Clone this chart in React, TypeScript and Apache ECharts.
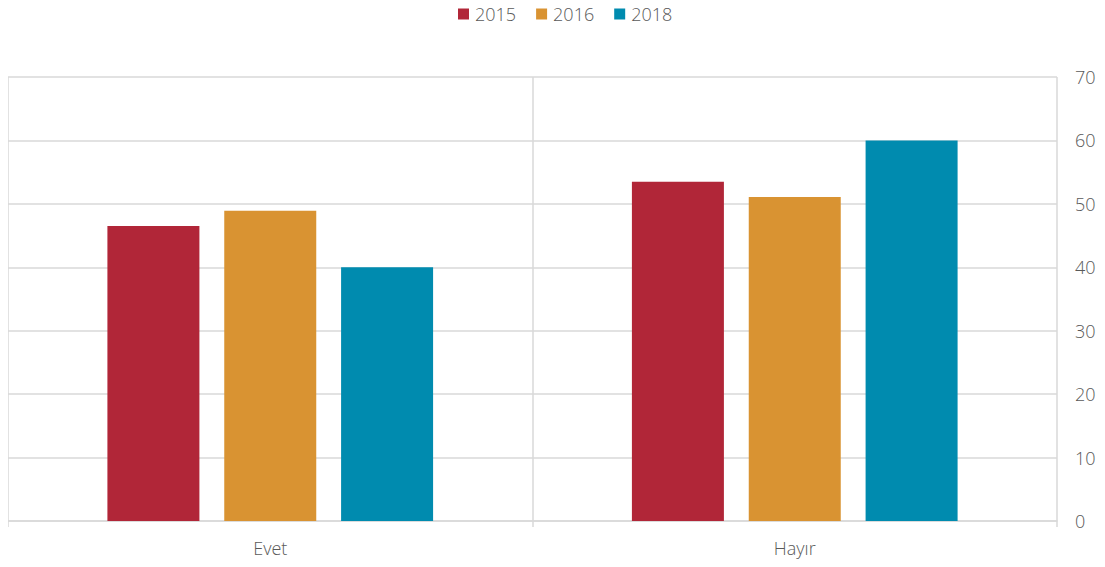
import React, { useEffect, useRef } from "react";
import * as echarts from "echarts";

const categories = ["Evet", "Hayır"];
const seriesNames = ["2015", "2016", "2018"];
const values2015 = [46.5, 53.5];
const values2016 = [48.9, 51.1];
const values2018 = [40, 60];
const colors = ["#B12638", "#D99332", "#008BAF"];

export default function App() {
  const ref = useRef<HTMLDivElement>(null);
  useEffect(() => {
    if (!ref.current) return;
    const chart = echarts.init(ref.current, null, { renderer: "svg" });
    const font = "'Open Sans', 'Noto Sans', sans-serif";
    const data = [values2015, values2016, values2018];
    chart.setOption({
      animation: false,
      textStyle: { fontFamily: font },
      color: colors,
      legend: {
        top: 0,
        left: 453,
        itemWidth: 11,
        itemHeight: 11,
        itemGap: 20,
        icon: "rect",
        textStyle: { color: "#595959", fontSize: 18, fontWeight: 300, fontFamily: font, padding: [0, 0, 0, 1] },
        data: seriesNames,
      },
      grid: { left: 8, right: 48, top: 77, bottom: 46, containLabel: false },
      xAxis: {
        type: "category",
        data: categories,
        boundaryGap: true,
        axisLine: { show: true, lineStyle: { color: "#D9D9D9", width: 1.5 } },
        axisTick: { show: true, length: 6, lineStyle: { color: "#D9D9D9", width: 1.5 } },
        splitLine: { show: true, lineStyle: { color: "#D9D9D9", width: 1.5 } },
        axisLabel: { color: "#595959", fontSize: 18, fontWeight: 300, margin: 18, fontFamily: font },
      },
      yAxis: {
        type: "value",
        position: "right",
        min: 0,
        max: 70,
        interval: 10,
        axisLine: { show: false },
        axisTick: { show: false },
        splitLine: { show: true, lineStyle: { color: "#D9D9D9", width: 1.5 } },
        axisLabel: { color: "#595959", fontSize: 18, fontWeight: 300, margin: 18, fontFamily: font },
      },
      series: seriesNames.map((name, i) => ({
        name,
        type: "bar",
        data: data[i],
        barWidth: 92,
        barGap: "27%",
        itemStyle: { color: colors[i] },
      })),
    });
    return () => chart.dispose();
  }, []);
  return <div ref={ref} style={{ width: 1105, height: 567, marginLeft: -8, marginTop: -8 }} />;
}
